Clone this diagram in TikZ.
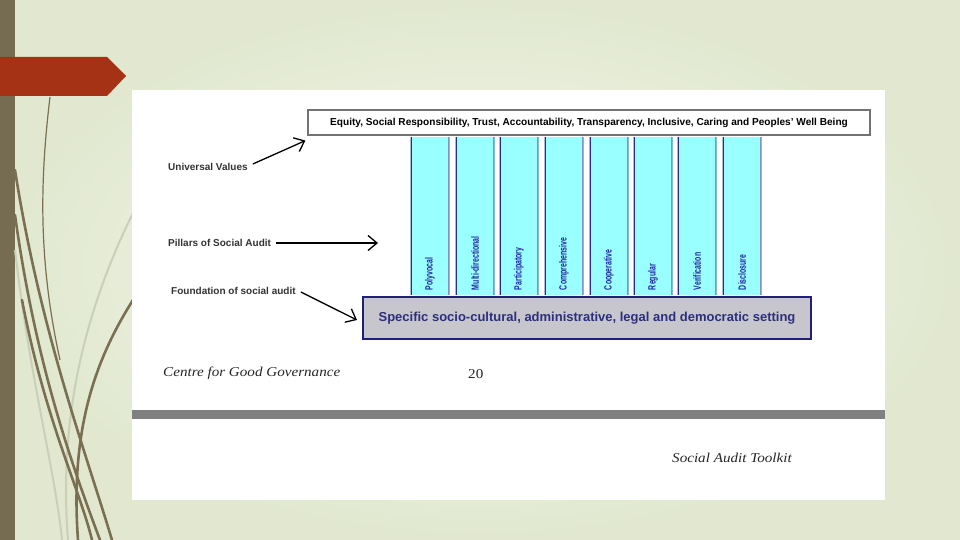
\documentclass[tikz,border=0pt]{standalone}
\usepackage{fontspec}
\setmainfont{Liberation Sans}
\newfontfamily\serifit[FakeStretch=1.12]{Liberation Serif}
\newfontfamily\narrowfont[FakeStretch=0.66]{Liberation Sans}
\usepackage{tikz}
\usetikzlibrary{positioning,shapes.geometric,arrows.meta}
\definecolor{slidebg}{HTML}{E1E8CF}
\definecolor{slidelight}{HTML}{F5F8EF}
\definecolor{olivebar}{HTML}{766C52}
\definecolor{grassdark}{HTML}{7A6F52}
\definecolor{grasslight}{HTML}{C9CFB8}
\definecolor{banner}{HTML}{A63216}
\definecolor{pillarfill}{HTML}{99FFFF}
\definecolor{pillaredge}{HTML}{26308C}
\definecolor{pillarside}{HTML}{7F96C0}
\definecolor{pillartext}{HTML}{2323A8}
\definecolor{basefill}{HTML}{C6C6CC}
\definecolor{baseedge}{HTML}{20207A}
\definecolor{basetext}{HTML}{2E2E80}
\definecolor{labeltext}{HTML}{333333}
\tikzset{
  valuesbox/.style={draw=black!55, line width=1.2pt, fill=white, minimum width=562pt, minimum height=25pt, font=\bfseries\fontsize{10.1}{12}\selectfont, inner sep=0pt},
  pillar/.style={fill=pillarfill, draw=none, minimum width=39pt, minimum height=158pt, inner sep=0pt,
    path picture={\draw[pillaredge, line width=2.6pt] (path picture bounding box.north west) -- (path picture bounding box.south west);
                  \draw[pillarside, line width=2.6pt] (path picture bounding box.north east) -- (path picture bounding box.south east);}},
  pillarlabel/.style={rotate=90, anchor=west, inner sep=0pt, text=pillartext, font=\narrowfont\bfseries\fontsize{10.5}{12}\selectfont},
  basebox/.style={draw=baseedge, line width=2pt, fill=basefill, minimum width=448pt, minimum height=42pt, text=basetext, font=\bfseries\fontsize{13}{15}\selectfont, inner sep=0pt},
  sidelabel/.style={anchor=west, inner sep=0pt, text=labeltext, font=\bfseries\fontsize{10}{12}\selectfont},
  pagenote/.style={anchor=west, inner sep=0pt, font=\serifit\itshape\fontsize{13.5}{15}\selectfont, text=black!85},
  pagenum/.style={anchor=west, inner sep=0pt, font=\serifit\fontsize{13.5}{15}\selectfont, text=black!85},
  arrow/.style={-{Straight Barb[length=9pt, width=15pt, line width=1.3pt]}, line width=1.3pt, black},
  grass/.style={draw=grassdark, line width=2.6pt, line cap=round},
}
\begin{document}
\begin{tikzpicture}[x=1pt, y=-1pt]
  \useasboundingbox (0,0) rectangle (960,540);
  % slide background
  \shade[inner color=slidelight, outer color=slidebg] (0,0) rectangle (960,540);
  \fill[olivebar] (0,0) rectangle (15,540);

  % grass strokes
  \draw[grasslight, line width=2pt] (133,213) .. controls (75,330) and (60,440) .. (68,540);
  \draw[grasslight, line width=2pt] (15,250) .. controls (30,380) and (55,470) .. (62,540);
  \draw[grassdark, line width=1.2pt] (50,97) .. controls (40,180) and (38,260) .. (60,360);
  \draw[grass] (15,170) .. controls (40,330) and (85,450) .. (112,540);
  \draw[grass] (15,215) .. controls (35,360) and (70,460) .. (100,540);
  \draw[grass] (133,300) .. controls (95,360) and (70,430) .. (78,540);
  \draw[grass] (22,300) .. controls (45,420) and (80,490) .. (92,540);

  \fill[banner] (0,57) -- (107,57) -- (126,76) -- (107,96) -- (0,96) -- cycle;

  % scanned page
  \fill[white] (132,90) rectangle (885,500);
  \fill[black!50] (132,410) rectangle (885,419);

  \node[valuesbox] (values) at (589,122.5) {Equity, Social Responsibility, Trust, Accountability, Transparency, Inclusive, Caring and Peoples' Well Being};

  \node[pillar] (p1) at (430,216) {};
  \node[pillar] (p2) at (475,216) {};
  \node[pillar] (p3) at (519,216) {};
  \node[pillar] (p4) at (564,216) {};
  \node[pillar] (p5) at (609,216) {};
  \node[pillar] (p6) at (653,216) {};
  \node[pillar] (p7) at (697,216) {};
  \node[pillar] (p8) at (742,216) {};
  \node[pillarlabel] (l1) at ([yshift=5pt]p1.south) {Polyvocal};
  \node[pillarlabel] (l2) at ([yshift=5pt]p2.south) {Multi-directional};
  \node[pillarlabel] (l3) at ([yshift=5pt]p3.south) {Participatory};
  \node[pillarlabel] (l4) at ([yshift=5pt]p4.south) {Comprehensive};
  \node[pillarlabel] (l5) at ([yshift=5pt]p5.south) {Cooperative};
  \node[pillarlabel] (l6) at ([yshift=5pt]p6.south) {Regular};
  \node[pillarlabel] (l7) at ([yshift=5pt]p7.south) {Verification};
  \node[pillarlabel] (l8) at ([yshift=5pt]p8.south) {Disclosure};

  \node[basebox] (base) at (587,318) {Specific socio-cultural, administrative, legal and democratic setting};

  \node[sidelabel] (univ) at (168,167) {Universal Values};
  \node[sidelabel] (pill) at (168,243) {Pillars of Social Audit};
  \node[sidelabel] (found) at (171,291) {Foundation of social audit};
  \coordinate (pilltip) at (378,243);

  \draw[arrow] ([xshift=5pt,yshift=3pt]univ.east) -- ([xshift=-2pt,yshift=-5pt]values.south west);
  \draw[arrow] ([xshift=5pt]pill.east) -- (pilltip);
  \draw[arrow] ([xshift=5pt,yshift=-1pt]found.east) -- ([xshift=-5pt,yshift=-2pt]base.west);

  \node[pagenote] (centre) at (163,373) {Centre for Good Governance};
  \node[pagenum] (pageno) at (468,374) {20};
  \node[pagenote] (toolkit) at (672,458) {Social Audit Toolkit};
\end{tikzpicture}
\end{document}
